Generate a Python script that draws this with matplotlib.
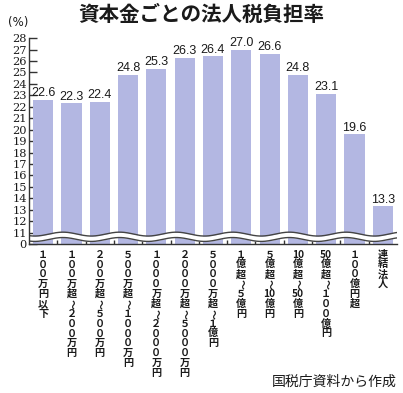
import re

import matplotlib
matplotlib.use("Agg")
import matplotlib.pyplot as plt
import numpy as np

CJK = ["Noto Sans CJK JP", "DejaVu Sans"]

title = "資本金ごとの法人税負担率"
source = "国税庁資料から作成"
unit_label = "(%)"

# categories written horizontally; ASCII digit runs stay side by side in the vertical label
categories = [
    "１００万円以下",
    "１００万超～２００万円",
    "２００万超～５００万円",
    "５００万超～１０００万円",
    "１０００万超～２０００万円",
    "２０００万超～５０００万円",
    "５０００万超～１億円",
    "１億超～５億円",
    "５億超～10億円",
    "10億超～50億円",
    "50億超～１００億円",
    "１００億円超",
    "連結法人",
]
rates = [22.6, 22.3, 22.4, 24.8, 25.3, 26.3, 26.4, 27.0, 26.6, 24.8, 23.1, 19.6, 13.3]
ytick_values = [0] + list(range(11, 29))

BREAK = 10  # axis skips 1..10
BAR_COLOR = "#b3b7e2"
TEXT_COLOR = "#1a1a1a"


def to_plot(v):
    return 0 if v == 0 else v - BREAK


def tokens(label):
    return re.findall(r"[0-9]+|.", label)


fig = plt.figure(figsize=(4.03, 3.93), dpi=100)
fig.patch.set_facecolor("white")
ax = fig.add_axes([0.072, 0.379, 0.913, 0.524])

x = np.arange(len(categories))
heights = [to_plot(v) for v in rates]
ax.bar(x, heights, width=0.71, color=BAR_COLOR, zorder=2)

for xi, v, h in zip(x, rates, heights):
    ax.annotate(f"{v:.1f}", xy=(xi, h), xytext=(0, 0.5), textcoords="offset points",
                ha="center", va="bottom", fontsize=9, family="Liberation Sans",
                color=TEXT_COLOR)

# axis break wave
wx = np.linspace(-0.5, len(categories) - 0.5, 400)
wave = np.cos(np.pi * (wx - 0.7))
upper = 0.87 + 0.17 * wave
lower = 0.40 + 0.17 * wave
ax.fill_between(wx, lower, upper, color="white", zorder=3, lw=0)
ax.plot(wx, upper, color="#444444", lw=1, zorder=4)
ax.plot(wx, lower, color="#444444", lw=1, zorder=4)

ax.set_xlim(-0.5, len(categories) - 0.5)
ax.set_ylim(0, to_plot(28))
ax.set_yticks([to_plot(v) for v in ytick_values])
ax.set_yticklabels([str(v) for v in ytick_values], family="DejaVu Serif",
                   fontsize=8.2, color=TEXT_COLOR)
ax.tick_params(axis="y", direction="in", length=5.5, width=1, color="#333333", pad=1.5)
ax.set_xticks([])
ax.set_xticks(x[:-1] + 0.5, minor=True)
ax.tick_params(axis="x", which="minor", direction="in", length=3, width=1, color="#333333")
for side in ("top", "right"):
    ax.spines[side].set_visible(False)
for side in ("left", "bottom"):
    ax.spines[side].set_color("#333333")
    ax.spines[side].set_linewidth(1)
    ax.spines[side].set_zorder(5)

# vertical category labels, one glyph per line
pitch = 7.1
for xi, label in zip(x, categories):
    for j, tok in enumerate(tokens(label)):
        rot = -90 if tok == "～" else 0
        ax.annotate(tok, xy=(xi, 0), xycoords=("data", "axes fraction"),
                    xytext=(0, -4 - j * pitch - pitch / 2), textcoords="offset points",
                    ha="center", va="center", rotation=rot, fontsize=7.3,
                    family=CJK, fontweight="bold", color=TEXT_COLOR)

fig.text(0.50, 0.962, title, ha="center", va="center", fontsize=14.8,
         family=CJK, fontweight="bold", color=TEXT_COLOR)
fig.text(0.045, 0.944, unit_label, ha="center", va="center", fontsize=8.5,
         family="DejaVu Sans", color=TEXT_COLOR)
fig.text(0.985, 0.028, source, ha="right", va="center", fontsize=10,
         family=CJK, color=TEXT_COLOR)

fig.savefig("out.png", dpi=100, facecolor="white")
plt.close(fig)
